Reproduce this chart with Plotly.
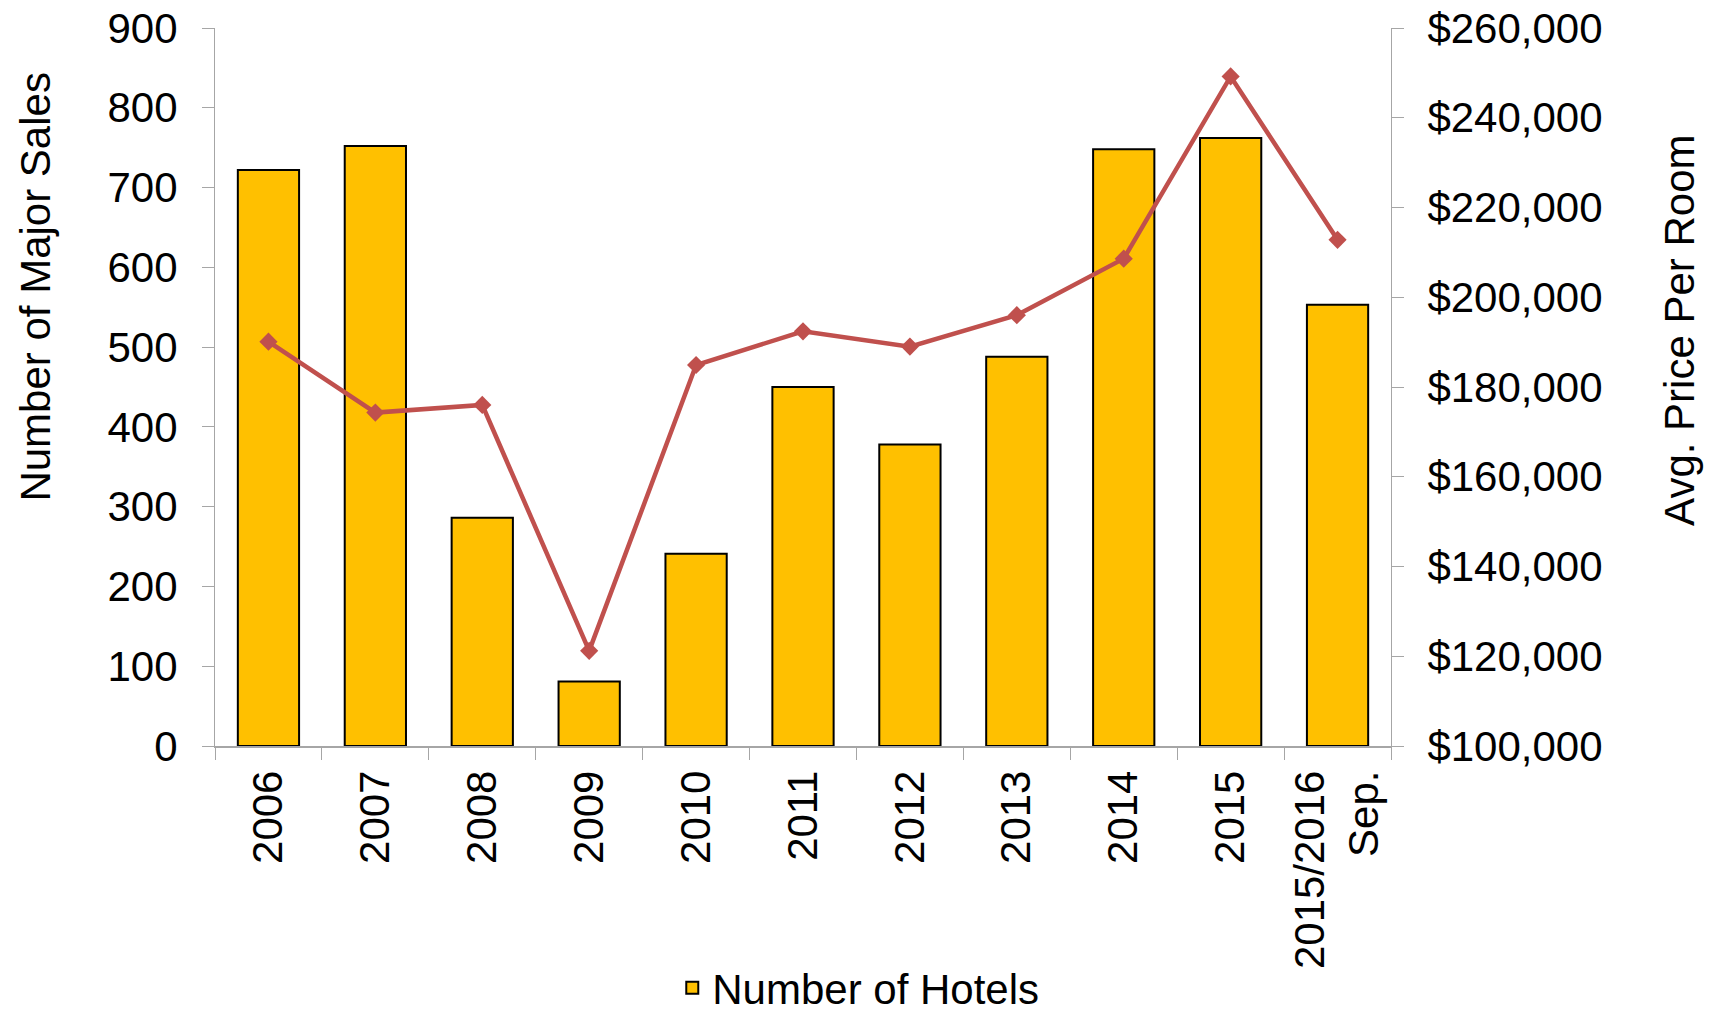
import plotly.graph_objects as go

categories = ["2006", "2007", "2008", "2009", "2010", "2011", "2012", "2013",
              "2014", "2015", "2015/2016<br>Sep."]
hotels = [722, 752, 286, 81, 241, 450, 378, 488, 748, 762, 553]
price_per_room = [190100, 174300, 176000, 121200, 184900, 192400, 189000,
                  196000, 208600, 249200, 212800]

left_ticks = list(range(0, 901, 100))
right_ticks = list(range(100000, 260001, 20000))
right_labels = ["$" + f"{v:,}" for v in right_ticks]

FONT = "Liberation Sans, Arial, sans-serif"
AXIS_GRAY = "#a6a6a6"

fig = go.Figure()
fig.add_trace(go.Bar(
    x=categories, y=hotels, name="Number of Hotels",
    marker=dict(color="#FFC000", line=dict(color="black", width=2)),
    yaxis="y", xaxis="x",
))
fig.add_trace(go.Scatter(
    x=categories, y=price_per_room, name="Avg. Price Per Room",
    mode="lines+markers", yaxis="y2", xaxis="x", showlegend=False,
    line=dict(color="#C0504D", width=4.5),
    marker=dict(symbol="diamond", size=14, color="#C0504D"),
))

W, H = 1716, 1012
L, R, T, B = 214.5, 1391, 28, 746

tickfont = dict(family=FONT, size=42, color="black")

fig.update_layout(
    width=W, height=H,
    margin=dict(l=L, r=W - R, t=T, b=H - B, pad=0, autoexpand=False),
    paper_bgcolor="white", plot_bgcolor="white",
    font=dict(family=FONT, size=42, color="black"),
    bargap=0.427,
    xaxis=dict(
        type="category", categoryorder="array", categoryarray=categories,
        range=[-0.5, len(categories) - 0.5], automargin=False,
        showline=True, linecolor=AXIS_GRAY, linewidth=1.5,
        ticks="outside", tickson="boundaries", ticklen=12, tickcolor=AXIS_GRAY, tickwidth=1,
        tickangle=-90, tickfont=tickfont, showgrid=False, zeroline=False,
        ticklabelstandoff=6, ticklabeloverflow="allow",
    ),
    xaxis2=dict(
        overlaying="x", anchor="y", range=[-0.5, len(categories) - 0.5], automargin=False,
        tickmode="array", tickvals=[i - 0.5 for i in range(len(categories) + 1)],
        ticks="inside", ticklen=12, tickcolor=AXIS_GRAY, tickwidth=1,
        showticklabels=False, showline=False, showgrid=False, zeroline=False,
    ),
    yaxis=dict(
        range=[0, 900], tickmode="array", tickvals=left_ticks, automargin=False,
        showline=True, linecolor=AXIS_GRAY, linewidth=1,
        ticks="outside", ticklen=12, tickcolor=AXIS_GRAY, tickwidth=1,
        tickfont=tickfont, showgrid=False, zeroline=False,
        ticklabelstandoff=16, ticklabeloverflow="allow",
    ),
    yaxis3=dict(
        overlaying="y", anchor="x", range=[0, 900], tickmode="array", tickvals=left_ticks,
        ticks="inside", ticklen=12, tickcolor=AXIS_GRAY, tickwidth=1, automargin=False,
        showticklabels=False, showline=False, showgrid=False, zeroline=False,
    ),
    yaxis2=dict(
        overlaying="y", side="right", anchor="x", automargin=False,
        range=[100000, 260000], tickmode="array", tickvals=right_ticks, ticktext=right_labels,
        showline=True, linecolor=AXIS_GRAY, linewidth=1,
        ticks="outside", ticklen=12, tickcolor=AXIS_GRAY, tickwidth=1,
        tickfont=tickfont, showgrid=False, zeroline=False,
        ticklabelstandoff=15, ticklabeloverflow="allow",
    ),
    yaxis4=dict(
        overlaying="y", side="right", anchor="x", automargin=False,
        range=[100000, 260000], tickmode="array", tickvals=right_ticks,
        ticks="inside", ticklen=12, tickcolor=AXIS_GRAY, tickwidth=1,
        showticklabels=False, showline=False, showgrid=False, zeroline=False,
    ),
    showlegend=True,
    legend=dict(
        orientation="h", xref="paper", x=0.547, xanchor="center",
        yref="container", y=1 - 988 / H, yanchor="middle",
        font=dict(family=FONT, size=42, color="black"),
        bgcolor="rgba(0,0,0,0)", itemwidth=30,
    ),
    annotations=[
        dict(text="Number of Major Sales", xref="paper", yref="paper",
             x=(34 - L) / (R - L), y=(B - 287) / (B - T), textangle=-90,
             showarrow=False, xanchor="center", yanchor="middle",
             font=dict(family=FONT, size=42, color="black")),
        dict(text="Avg. Price Per Room", xref="paper", yref="paper",
             x=(1679 - L) / (R - L), y=(B - 330) / (B - T), textangle=-90,
             showarrow=False, xanchor="center", yanchor="middle",
             font=dict(family=FONT, size=42, color="black")),
    ],
)

fig.write_html("out.html", config={"displayModeBar": False},
               post_script="document.body.style.margin='0';")
